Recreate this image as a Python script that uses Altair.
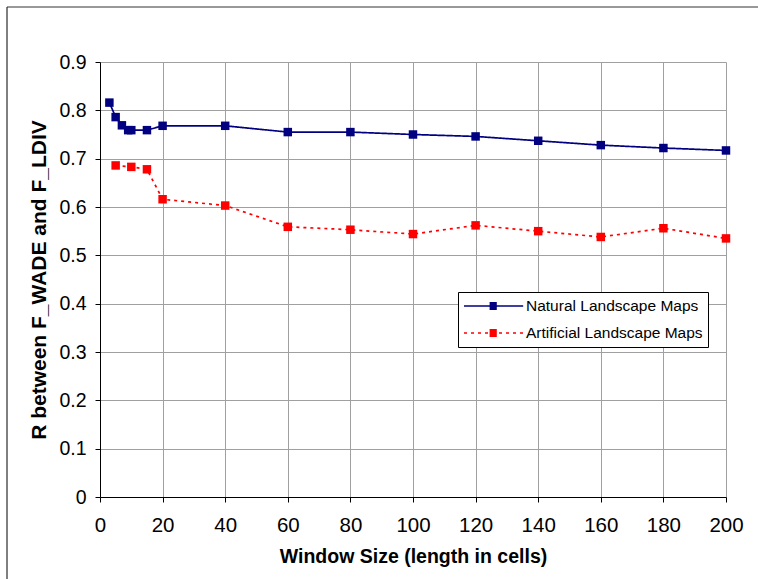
import altair as alt
import pandas as pd

# ---- data ----
series_names = ["Natural Landscape Maps", "Artificial Landscape Maps"]
series_colors = ["#000080", "#FF0000"]
series_dashes = [[1, 0], [3, 4]]

natural_x = [3, 5, 7, 9, 10, 15, 20, 40, 60, 80, 100, 120, 140, 160, 180, 200]
natural_r = [0.816, 0.786, 0.769, 0.759, 0.759, 0.759, 0.768, 0.768, 0.755,
             0.755, 0.750, 0.746, 0.737, 0.728, 0.722, 0.717]

artificial_x = [5, 10, 15, 20, 40, 60, 80, 100, 120, 140, 160, 180, 200]
artificial_r = [0.686, 0.683, 0.678, 0.616, 0.603, 0.559, 0.553, 0.544, 0.562,
                0.550, 0.538, 0.556, 0.535]

x_ticks = [0, 20, 40, 60, 80, 100, 120, 140, 160, 180, 200]
y_ticks = [0, 0.1, 0.2, 0.3, 0.4, 0.5, 0.6, 0.7, 0.8, 0.9]

df = pd.concat([
    pd.DataFrame({"series": series_names[0], "window": natural_x, "r": natural_r}),
    pd.DataFrame({"series": series_names[1], "window": artificial_x, "r": artificial_r}),
], ignore_index=True)

FONT = "Liberation Sans"

x_enc = alt.X(
    "window:Q",
    scale=alt.Scale(domain=[0, 200], nice=False),
    axis=alt.Axis(
        values=x_ticks, title="Window Size (length in cells)",
        labelFontSize=20.5, labelBaseline="alphabetic", labelPadding=29,
        labelFlush=False,
        titleFontSize=19.5, titleBaseline="alphabetic", titleY=65,
    ),
)
y_enc = alt.Y(
    "r:Q",
    scale=alt.Scale(domain=[0, 0.9], nice=False),
    axis=alt.Axis(
        values=y_ticks, format=".1~f", title="R between F_WADE and F_LDIV",
        labelFontSize=19.5, labelPadding=9, labelFlush=False,
        titleFontSize=21, titleBaseline="alphabetic", titleX=-55,
    ),
)

# legend glyph: a line with a small square built from short sub-paths
# (sub-paths restart the dash pattern, so the square stays solid when dashed)
sq_rows = [-0.4, -0.2, 0.0, 0.2, 0.4]
sq_cols = [(2.2, 2.5), (2.5, 2.8), (2.8, 3.1)]
legend_path = "M-1,0L6.4,0" + "".join(
    f"M{a},{yy}L{b},{yy}" for yy in sq_rows for (a, b) in sq_cols
)

legend = alt.Legend(
    title=None, orient="none", legendX=358, legendY=230,
    symbolType=legend_path, symbolSize=256, symbolStrokeWidth=1.7,
    labelOffset=45, labelFontSize=15.5, labelFont=FONT, labelColor="#000",
    labelLimit=400, padding=5, rowPadding=9,
    strokeColor="#000", fillColor="#fff",
)

color_scale = alt.Scale(domain=series_names, range=series_colors)

lines = alt.Chart(df).mark_line(strokeWidth=1.7).encode(
    x=x_enc, y=y_enc,
    stroke=alt.Stroke("series:N", scale=color_scale, legend=legend),
    strokeDash=alt.StrokeDash("series:N",
                              scale=alt.Scale(domain=series_names, range=series_dashes),
                              legend=legend),
)

points = alt.Chart(df).mark_square(size=72, filled=True, opacity=1).encode(
    x=x_enc, y=y_enc,
    fill=alt.Fill("series:N", scale=color_scale, legend=legend),
)

frame_df = pd.DataFrame({"k": [0]})
frame_left = alt.Chart(frame_df).mark_rule(color="#000", strokeWidth=1).encode(
    x=alt.value(-93), y=alt.value(-55), y2=alt.value(540))
frame_top = alt.Chart(frame_df).mark_rule(color="#333", strokeWidth=1).encode(
    x=alt.value(-93), x2=alt.value(700), y=alt.value(-55))

chart = alt.layer(frame_left, frame_top, lines, points).properties(
    width=626, height=435,
    autosize=alt.AutoSizeParams(type="none"),
    padding={"left": 100, "top": 62, "right": 32, "bottom": 82},
    background="#ffffff",
).configure_view(stroke=None).configure_axis(
    labelFont=FONT, titleFont=FONT, labelColor="#000", titleColor="#000",
    domainColor="#000", tickColor="#000", tickSize=5, domainWidth=1,
    gridColor="#a0a0a0", gridWidth=1, grid=True, titleFontWeight="bold",
)

chart.save("out.html", embed_options={"renderer": "svg", "actions": False})
